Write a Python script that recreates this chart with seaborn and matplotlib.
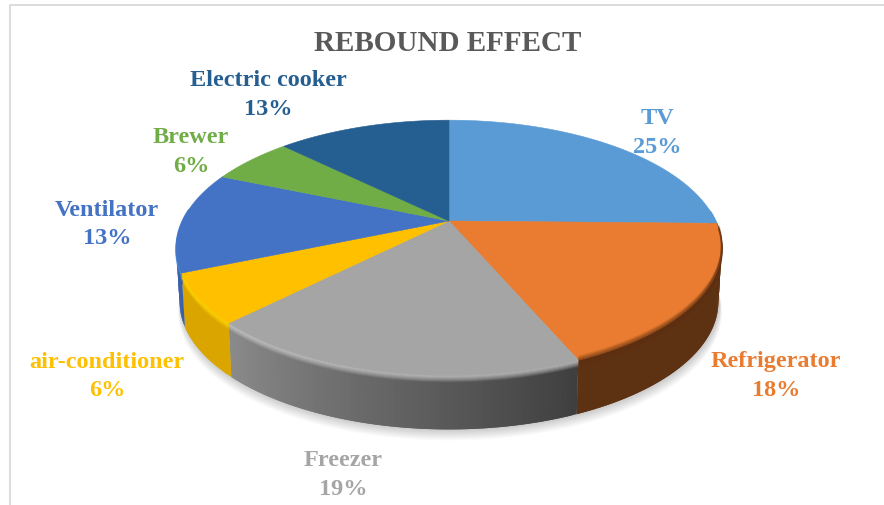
import numpy as np
import matplotlib
matplotlib.use("Agg")
import matplotlib.pyplot as plt
import seaborn as sns

categories = ["TV", "Refrigerator", "Freezer", "air-conditioner", "Ventilator", "Brewer", "Electric cooker"]
values = [25.3, 18.3, 18.8, 6.2, 12.8, 6.0, 12.6]
colors = ["#5B9BD5", "#E97C30", "#A5A5A5", "#FFC000", "#4472C4", "#70AD47", "#255E91"]
title = "REBOUND EFFECT"

# layout (pixels of the 884x506 canvas)
W, H = 884, 506
CX, CY = 449, 222
A, C, K = 266.6, 122.0, 0.21
DEPTH = 54
label_pos = [(657, 133), (776, 376.5), (343, 475), (107, 376.5), (107, 224.5), (191, 151.5), (268, 95)]
# wall brightness at start and end of each slice (left-to-right for front slices)
wall_shade = [(.55, .55), (.40, .40), (.38, .84), (.86, .86), (.85, .85), (1, 1), (1, 1)]
bevel = ["#5B9BD5", "#5E2F10", "#C4C4C4", "#FFD500", "#4A86D8", "#70AD47", "#255E91"]

sns.set_theme(style="white")
plt.rcParams["font.family"] = ["Liberation Serif", "DejaVu Serif"]
palette = sns.color_palette(colors)


def project(theta, scale=1.0):
    x, y = np.sin(theta) * scale, np.cos(theta) * scale
    d = 1 + K * y
    return CX + A * x / d, CY - C * y / d


def lower(theta):
    px, py = project(theta)
    return CX + (px - CX) * 0.988, py + DEPTH


fig = plt.figure(figsize=(W / 100, H / 100), dpi=100)
ax = fig.add_axes([0, 0, 1, 1])
ax.set_xlim(0, W)
ax.set_ylim(H, 0)
ax.axis("off")

# frame
ax.plot([10, 10, W], [H, 6, 6], color="#DCDCDC", lw=1.4, zorder=0)

# soft shadow under the disc
full = np.linspace(0, 2 * np.pi, 361)
for i in range(1, 11):
    bx, by = lower(full)
    ax.fill(CX + (bx - CX) * (1 + i * 0.0009) + 1, by + i * 1.1, color="black",
            alpha=0.018, lw=0, zorder=1)

edges = np.concatenate([[0], np.cumsum(values)]) / np.sum(values) * 2 * np.pi

# side walls: strips overlap the next one so that no seams show
for i, (a0, a1) in enumerate(zip(edges[:-1], edges[1:])):
    ts = np.linspace(a0, a1, max(int(np.degrees(a1 - a0)), 2) + 1)
    ts = ts[np.cos(ts) < 0.12]
    if len(ts) < 2:
        continue
    base = np.array(palette[i])
    s0, s1 = wall_shade[i]
    for j in range(len(ts) - 1):
        t0, t1 = ts[j], ts[min(j + 2, len(ts) - 1)]
        f = s0 + (s1 - s0) * (j + .5) / (len(ts) - 1)
        tx0, ty0 = project(t0); tx1, ty1 = project(t1)
        bx0, by0 = lower(t0); bx1, by1 = lower(t1)
        c = np.clip(base * f, 0, 1)
        ax.fill([tx0, tx1, bx1, bx0], [ty0, ty1, by1, by0], facecolor=c, lw=0, zorder=2)

# bevel just below the rim
for i, (a0, a1) in enumerate(zip(edges[:-1], edges[1:])):
    ts = np.linspace(a0, a1, 80)
    ts = ts[np.cos(ts) < 0.1]
    if len(ts) < 2:
        continue
    px, py = project(ts)
    for off in range(0, 7):
        ax.plot(px, py + off, color=bevel[i], alpha=0.75 * (1 - off / 7), lw=1.2,
                solid_capstyle="butt", zorder=3)

# top surface
for i, (a0, a1) in enumerate(zip(edges[:-1], edges[1:])):
    ts = np.linspace(a0, a1, 120)
    px, py = project(ts)
    ax.fill(np.r_[CX, px], np.r_[CY, py], facecolor=palette[i], edgecolor=palette[i], lw=0.4, zorder=4)

# dark soft inner edge on the refrigerator slice
ts = np.linspace(edges[1], edges[2], 80)
ts = ts[np.cos(ts) < -0.05]
px, py = project(ts)
for off in range(0, 5):
    ax.plot(px, py - off, color="#5E2F10", alpha=0.45 * (1 - off / 5), lw=1.2,
            solid_capstyle="butt", zorder=5)

# labels and title
for name, v, col, (lx, ly) in zip(categories, values, palette, label_pos):
    ax.text(lx, ly, f"{name}\n{round(v)}%", color=col, ha="center", va="center", fontsize=17.5,
            fontweight="bold", linespacing=1.5, zorder=6)
ax.text(448, 43, title, color="#595959", ha="center", va="center", fontsize=21,
        fontweight="bold", zorder=6)

fig.savefig("out.png", dpi=100)
